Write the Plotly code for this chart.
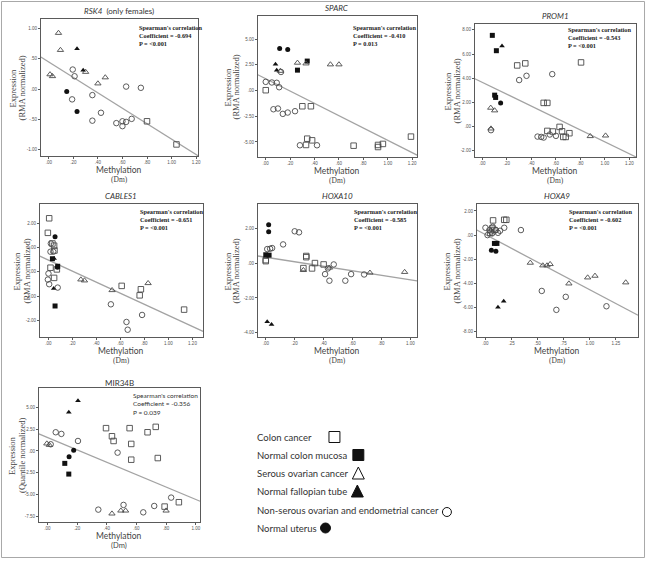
import plotly.graph_objects as go

W, H = 651, 561

# ---------------- data ----------------
# group codes: CC colon cancer, NCM normal colon mucosa, SOC serous ovarian cancer,
# NFT normal fallopian tube, NSC non-serous ovarian/endometrial cancer, NU normal uterus
RSK4_x = [0.079, 0.095, 0.01, 0.03, 0.30, 0.40, 0.46,
          0.23, 0.28,
          0.195, 0.21, 0.19, 0.355, 0.425, 0.355, 0.63, 0.75, 0.55, 0.60, 0.60, 0.63, 0.675,
          0.80, 1.04,
          0.146, 0.23]
RSK4_y = [0.92, 0.64, 0.24, 0.21, 0.28, 0.09, 0.19,
          0.66, 0.31,
          0.32, 0.21, -0.17, -0.10, -0.39, -0.52, 0.04, 0.02, -0.56, -0.53, -0.61, -0.54, -0.49,
          -0.53, -0.91,
          -0.04, -0.37]
RSK4_g = ["SOC"] * 7 + ["NFT"] * 2 + ["NSC"] * 13 + ["CC"] * 2 + ["NU"] * 2
RSK4_fit_x = [-0.065, 1.216]
RSK4_fit_y = [0.526, -1.096]

SPARC_x = [0.114, 0.18,
           0.08, 0.09,
           0.26, 0.34,
           0.26, 0.53, 0.60, 0.12, 0.33,
           0.125, 0.0, 0.05, 0.09, 0.11, 0.063, 0.10, 0.14, 0.18, 0.24, 0.28, 0.42,
           0.0, 0.30, 0.37, 0.33, 0.34, 0.38, 0.72, 0.92, 0.92, 0.96, 1.19]
SPARC_y = [4.09, 3.99,
           2.56, 1.98,
           1.98, 2.86,
           2.69, 2.53, 2.53, 1.90, 2.62,
           1.80, 0.84, 0.78, 0.75, 0.32, -1.82, -1.75, -2.27, -2.14, -2.01, -5.32, -5.32,
           0.03, -1.53, -1.53, -5.29, -4.68, -4.84, -5.36, -5.49, -5.29, -5.19, -4.48]
SPARC_g = ["NU"] * 2 + ["NFT"] * 2 + ["NCM"] * 2 + ["SOC"] * 5 + ["NSC"] * 12 + ["CC"] * 11
SPARC_fit_x = [-0.065, 1.24]
SPARC_fit_y = [1.53, -6.28]

PROM1_x = [0.081, 0.114, 0.10, 0.108,
           0.16,
           0.149,
           0.068, 0.10, 0.07, 0.88, 1.005,
           0.07, 0.30, 0.36, 0.57, 0.45, 0.48, 0.50, 0.55, 0.60,
           0.284, 0.35, 0.805, 0.50, 0.53, 0.63, 0.53, 0.575, 0.65, 0.66, 0.68, 0.71]
PROM1_y = [7.55, 6.28, 2.60, 2.41,
           6.67,
           1.96,
           1.55, 1.33, -0.17, -0.80, -0.75,
           -0.30, 3.85, 4.20, 4.34, -0.83, -0.86, -0.91, -0.66, -0.77,
           5.06, 5.23, 5.31, 1.96, 1.96, -0.03, -0.36, -0.41, -0.39, -0.86, -0.86, -0.55]
PROM1_g = ["NCM"] * 4 + ["NFT"] + ["NU"] + ["SOC"] * 5 + ["NSC"] * 9 + ["CC"] * 12
PROM1_fit_x = [-0.062, 1.254]
PROM1_fit_y = [3.96, -2.52]

CABLES1_x = [0.006, -0.005, 0.033, 0.047, 0.05, 0.017, 0.07, 0.047, 0.61, 0.77, 0.76, 1.13,
             0.02, 0.017, 0.04, 0.0, -0.005, 0.006, 0.077, 0.52, 0.65, 0.66, 0.78,
             0.055, 0.075,
             0.047, 0.044,
             0.033, 0.077, 0.055,
             0.27, 0.30, 0.53, 0.83]
CABLES1_y = [2.21, 1.61, 1.17, 1.08, 0.88, 0.17, 0.10, -0.25, -0.58, -0.72, -0.97, -1.56,
             1.17, 0.83, 0.83, -0.07, -0.32, -0.51, -0.65, -1.34, -2.07, -2.39, -1.78,
             1.45, 0.19,
             0.55, -0.69,
             0.54, 0.23, -1.41,
             -0.32, -0.36, -0.76, -0.47]
CABLES1_g = ["CC"] * 12 + ["NSC"] * 11 + ["NU"] * 2 + ["NFT"] * 2 + ["NCM"] * 3 + ["SOC"] * 4
CABLES1_fit_x = [-0.072, 1.288]
CABLES1_fit_y = [0.65, -2.46]

HOXA10_x = [0.02, 0.02,
            0.01, 0.04,
            0.0, 0.023,
            0.0, 0.0, 0.28, 0.28, 0.26, 0.32, 0.34, 0.40,
            0.01, 0.03, 0.044, 0.12, 0.20, 0.23, 0.41, 0.44, 0.47, 0.55, 0.59, 0.43, 0.68,
            0.26, 0.44, 0.72, 0.96]
HOXA10_y = [2.24, 1.84,
            -3.37, -3.54,
            0.50, 0.48,
            0.19, 0.13, 0.43, 0.36, -0.27, -0.29, 0.02, -0.06,
            0.83, 0.85, 0.89, 1.10, 1.86, 1.80, -0.62, -1.00, -0.06, -1.00, -0.62, -0.29, -0.64,
            -0.39, -0.25, -0.54, -0.50]
HOXA10_g = ["NU"] * 2 + ["NFT"] * 2 + ["NCM"] * 2 + ["CC"] * 8 + ["NSC"] * 13 + ["SOC"] * 4
HOXA10_fit_x = [-0.055, 1.046]
HOXA10_fit_y = [0.43, -1.01]

HOXA9_x = [0.073, 0.18, 0.20, 0.064, 0.085, 0.045,
           0.0, 0.02, 0.038, 0.07, 0.10, 0.12, 0.14, 0.18, 0.34, 0.054, 0.064, 0.54, 0.68, 0.77, 1.16,
           0.086, 0.11,
           0.057, 0.10,
           0.12, 0.175,
           0.43, 0.55, 0.59, 0.62, 0.80, 0.98, 1.05, 1.345]
HOXA9_y = [1.22, 1.27, 1.27, 0.55, 0.42, 0.19,
           0.61, 0.0, 0.42, 0.69, 0.42, 0.19, 0.36, 0.61, 0.42, 0.30, 0.14, -4.63, -6.20, -5.12, -5.90,
           -0.69, -0.69,
           -1.25, -1.33,
           -5.98, -5.48,
           -2.30, -2.52, -2.52, -2.41, -4.02, -3.52, -3.38, -3.93]
HOXA9_g = ["CC"] * 6 + ["NSC"] * 15 + ["NCM"] * 2 + ["NU"] * 2 + ["NFT"] * 2 + ["SOC"] * 8
HOXA9_fit_x = [-0.083, 1.463]
HOXA9_fit_y = [0.42, -6.65]

MIR34B_x = [0.206, 0.144,
            0.117, 0.144,
            0.177, 0.146,
            -0.004, 0.013, 0.435, 0.495, 0.527, 0.80,
            0.022, 0.056, 0.094, 0.206, 0.473, 0.513, 0.343, 0.646, 0.72, 0.834,
            0.395, 0.435, 0.446, 0.554, 0.565, 0.565, 0.675, 0.73, 0.744, 0.79, 0.886]
MIR34B_y = [5.77, 4.46,
            -1.42, -2.65,
            0.08, -0.65,
            0.85, 0.69, -7.19, -6.85, -6.85, -6.85,
            0.77, 2.15, 1.96, 1.15, -0.19, -6.19, -6.73, -7.04, -6.31, -5.35,
            2.62, 1.69, 1.15, 2.62, 0.81, -1.00, 2.15, 2.77, -0.81, -6.38, -5.88]
MIR34B_g = ["NFT"] * 2 + ["NCM"] * 2 + ["NU"] * 2 + ["SOC"] * 6 + ["NSC"] * 10 + ["CC"] * 11
MIR34B_fit_x = [-0.058, 1.029]
MIR34B_fit_y = [1.96, -5.77]

# tick labels
TICKS_X_020 = [0, 0.2, 0.4, 0.6, 0.8, 1.0, 1.2]
TICKS_X_020_TXT = [".00", ".20", ".40", ".60", ".80", "1.00", "1.20"]
TICKS_X_025 = [0, 0.25, 0.5, 0.75, 1.0, 1.25]
TICKS_X_025_TXT = [".00", ".25", ".50", ".75", "1.00", "1.25"]
RSK4_yt = [1.0, 0.5, 0.0, -0.5, -1.0]
RSK4_yt_txt = ["1.00", ".50", ".00", "-.50", "-1.00"]
SPARC_yt = [5.0, 2.5, 0.0, -2.5, -5.0]
SPARC_yt_txt = ["5.00", "2.50", ".00", "-2.50", "-5.00"]
PROM1_yt = [8, 6, 4, 2, 0, -2]
PROM1_yt_txt = ["8.00", "6.00", "4.00", "2.00", ".00", "-2.00"]
CABLES1_yt = [2, 1, 0, -1, -2]
CABLES1_yt_txt = ["2.00", "1.00", ".00", "-1.00", "-2.00"]
HOXA10_yt = [2, 0, -2, -4]
HOXA10_yt_txt = ["2.00", ".00", "-2.00", "-4.00"]
HOXA9_yt = [2, 0, -2, -4, -6, -8]
HOXA9_yt_txt = ["2.00", ".00", "-2.00", "-4.00", "-6.00", "-8.00"]
MIR34B_yt = [5, 2.5, 0, -2.5, -5, -7.5]
MIR34B_yt_txt = ["5.00", "2.50", ".00", "-2.50", "-5.00", "-7.50"]

COEFS = ["-0.694", "-0.410", "-0.543", "-0.651", "-0.585", "-0.602", "-0.356"]
PVALS = ["<0.001", "0.013", "<0.001", "<0.001", "<0.001", "<0.001", "0.039"]

LEGEND_LABELS = ["Colon cancer", "Normal colon mucosa", "Serous ovarian cancer",
                 "Normal fallopian tube", "Non-serous ovarian and endometrial cancer",
                 "Normal uterus"]

# ---------------- styling / layout ----------------
STYLE = {
    "CC": ("square-open", False),
    "NCM": ("square", True),
    "SOC": ("triangle-up-open", False),
    "NFT": ("triangle-up", True),
    "NSC": ("circle-open", False),
    "NU": ("circle", True),
}

panels = [
    dict(title="<i>RSK4</i>  (only females)", x=RSK4_x, y=RSK4_y, g=RSK4_g, fx=RSK4_fit_x, fy=RSK4_fit_y,
         box=(41, 199, 19, 156), xr=(-0.065, 1.216), yr=(-1.10, 1.15), xt=(TICKS_X_020, TICKS_X_020_TXT),
         yt=(RSK4_yt, RSK4_yt_txt), ytitle=("Expression", "(RMA normalized)"), ytx=(13, 22),
         stat=(138, 22), serif=True),
    dict(title="<i>SPARC</i>", x=SPARC_x, y=SPARC_y, g=SPARC_g, fx=SPARC_fit_x, fy=SPARC_fit_y,
         box=(259, 419, 16, 157), xr=(-0.065, 1.24), yr=(-6.46, 7.24), xt=(TICKS_X_020, TICKS_X_020_TXT),
         yt=(SPARC_yt, SPARC_yt_txt), ytitle=("Expression", "(RMA normalized)"), ytx=(230, 238),
         stat=(353, 22), serif=True),
    dict(title="<i>PROM1</i>", x=PROM1_x, y=PROM1_y, g=PROM1_g, fx=PROM1_fit_x, fy=PROM1_fit_y,
         box=(477, 639, 24, 157), xr=(-0.062, 1.254), yr=(-2.52, 8.49), xt=(TICKS_X_020, TICKS_X_020_TXT),
         yt=(PROM1_yt, PROM1_yt_txt), ytitle=("Expression", "(RMA normalized)"), ytx=(450, 459),
         stat=(569, 24), serif=True),
    dict(title="<i>CABLES1</i>", x=CABLES1_x, y=CABLES1_y, g=CABLES1_g, fx=CABLES1_fit_x, fy=CABLES1_fit_y,
         box=(40, 204, 204, 337), xr=(-0.072, 1.288), yr=(-2.69, 2.80), xt=(TICKS_X_020, TICKS_X_020_TXT),
         yt=(CABLES1_yt, CABLES1_yt_txt), ytitle=("Expression", "(RMA normalized)"), ytx=(17, 27),
         stat=(139, 206), serif=True),
    dict(title="<i>HOXA10</i>", x=HOXA10_x, y=HOXA10_y, g=HOXA10_g, fx=HOXA10_fit_x, fy=HOXA10_fit_y,
         box=(259, 419, 204, 337), xr=(-0.055, 1.046), yr=(-4.26, 3.44),
         xt=(TICKS_X_020[:6], TICKS_X_020_TXT[:6]),
         yt=(HOXA10_yt, HOXA10_yt_txt), ytitle=("Expression", "(RMA normalized)"), ytx=(229, 237),
         stat=(354, 206), serif=True),
    dict(title="<i>HOXA9</i>", x=HOXA9_x, y=HOXA9_y, g=HOXA9_g, fx=HOXA9_fit_x, fy=HOXA9_fit_y,
         box=(479, 641, 204, 337), xr=(-0.083, 1.463), yr=(-8.45, 2.58), xt=(TICKS_X_025, TICKS_X_025_TXT),
         yt=(HOXA9_yt, HOXA9_yt_txt), ytitle=("Expression", "(RMA normalized)"), ytx=(449, 459),
         stat=(570, 206), serif=True),
    dict(title="MIR34B", x=MIR34B_x, y=MIR34B_y, g=MIR34B_g, fx=MIR34B_fit_x, fy=MIR34B_fit_y,
         box=(39, 201, 388, 522), xr=(-0.058, 1.029), yr=(-8.15, 7.23),
         xt=(TICKS_X_020[:6], TICKS_X_020_TXT[:6]),
         yt=(MIR34B_yt, MIR34B_yt_txt), ytitle=("Expression", "(Quantile normalized)"), ytx=(12, 22),
         stat=(132, 390), serif=False),
]


def px(x):
    return x / W


def py(y):
    return 1 - y / H


fig = go.Figure()
annotations = []
shapes = []
layout_axes = {}

SANS = "Lato, Open Sans, sans-serif"
SERIF = "Liberation Serif, DejaVu Serif, serif"

for i, p in enumerate(panels):
    n = i + 1
    xa = "x" if n == 1 else f"x{n}"
    ya = "y" if n == 1 else f"y{n}"
    l, r, t, b = p["box"]
    axis_common = dict(showline=True, mirror=True, linecolor="#5a5a5a", linewidth=1,
                       ticks="outside", ticklen=2, tickwidth=0.8, tickcolor="#5a5a5a",
                       tickfont=dict(size=4.5, color="#555", family="Liberation Sans"),
                       showgrid=False, zeroline=False, fixedrange=True)
    layout_axes["xaxis" if n == 1 else f"xaxis{n}"] = dict(
        axis_common, domain=[px(l), px(r)], anchor=ya, range=list(p["xr"]),
        tickmode="array", tickvals=p["xt"][0], ticktext=p["xt"][1])
    layout_axes["yaxis" if n == 1 else f"yaxis{n}"] = dict(
        axis_common, domain=[py(b), py(t)], anchor=xa, range=list(p["yr"]),
        tickmode="array", tickvals=p["yt"][0], ticktext=p["yt"][1])

    # regression line
    fig.add_trace(go.Scatter(x=p["fx"], y=p["fy"], mode="lines", xaxis=xa, yaxis=ya,
                             line=dict(color="#a3a3a3", width=1.3), hoverinfo="skip"))
    # points by group
    for code, (sym, filled) in STYLE.items():
        xs = [xv for xv, gv in zip(p["x"], p["g"]) if gv == code]
        ys = [yv for yv, gv in zip(p["y"], p["g"]) if gv == code]
        if not xs:
            continue
        if filled:
            mk = dict(symbol=sym, size=5, color="#111111", line=dict(width=0))
        else:
            mk = dict(symbol=sym, size=5.5, color="#4a4a4a", line=dict(width=0.9, color="#4a4a4a"))
        fig.add_trace(go.Scatter(x=xs, y=ys, mode="markers", xaxis=xa, yaxis=ya, marker=mk,
                                 cliponaxis=False))

    cx = (l + r) / 2
    # panel title
    annotations.append(dict(x=px(cx), y=py(t - 8 if n != 7 else t - 5), xref="paper", yref="paper",
                            text=p["title"], showarrow=False, xanchor="center", yanchor="middle",
                            font=dict(family=SANS, size=8, color="#333")))
    # stats
    if p["serif"]:
        stat_txt = ("<b>Spearman's correlation</b><br><b>Coefficient = " + COEFS[i] +
                    "</b><br><b>P = " + PVALS[i] + "</b>")
        sfont = dict(family=SERIF, size=6.3, color="#222")
    else:
        stat_txt = ("Spearman's correlation<br>Coefficient = " + COEFS[i] +
                    "<br>P = " + PVALS[i])
        sfont = dict(family=SANS, size=6.5, color="#333")
    annotations.append(dict(x=px(p["stat"][0]), y=py(p["stat"][1]), xref="paper", yref="paper",
                            text=stat_txt, showarrow=False, xanchor="left", yanchor="top",
                            align="left", font=sfont))
    # y titles
    cy = (t + b) / 2
    for txt, xx in zip(p["ytitle"], p["ytx"]):
        annotations.append(dict(x=px(xx), y=py(cy), xref="paper", yref="paper", text=txt,
                                textangle=-90, showarrow=False, xanchor="center", yanchor="middle",
                                font=dict(family=SERIF, size=8.5, color="#444")))
    # x titles
    annotations.append(dict(x=px(cx), y=py(b + 14), xref="paper", yref="paper", text="Methylation",
                            showarrow=False, xanchor="center", yanchor="middle",
                            font=dict(family=SANS, size=8.5, color="#444")))
    annotations.append(dict(x=px(cx), y=py(b + 23.5), xref="paper", yref="paper", text="(Dm)",
                            showarrow=False, xanchor="center", yanchor="middle",
                            font=dict(family=SERIF if p["serif"] else SANS, size=7.5, color="#444")))

# ---------------- custom legend ----------------
LEG_X = 256
LEG_ROWS = [437, 455, 473, 491, 510, 528]
for lab, yy in zip(LEGEND_LABELS, LEG_ROWS):
    annotations.append(dict(x=px(LEG_X), y=py(yy), xref="paper", yref="paper", text=lab,
                            showarrow=False, xanchor="left", yanchor="middle",
                            font=dict(family=SANS, size=9.5, color="#333")))


def rect(cx, cy, s, filled):
    return dict(type="rect", xref="paper", yref="paper", x0=px(cx - s / 2), x1=px(cx + s / 2),
                y0=py(cy + s / 2), y1=py(cy - s / 2),
                line=dict(color="#111", width=1), fillcolor="#111" if filled else "white")


def tri(cx, cy, s, filled):
    path = (f"M {px(cx - s / 2)} {py(cy + s / 2)} L {px(cx + s / 2)} {py(cy + s / 2)} "
            f"L {px(cx)} {py(cy - s / 2)} Z")
    return dict(type="path", xref="paper", yref="paper", path=path,
                line=dict(color="#111", width=1), fillcolor="#111" if filled else "white")


def circ(cx, cy, s, filled):
    return dict(type="circle", xref="paper", yref="paper", x0=px(cx - s / 2), x1=px(cx + s / 2),
                y0=py(cy + s / 2), y1=py(cy - s / 2),
                line=dict(color="#111", width=1), fillcolor="#111" if filled else "white")


shapes += [
    rect(336, LEG_ROWS[0], 11, False),
    rect(360, LEG_ROWS[1], 11, True),
    tri(360, LEG_ROWS[2], 12, False),
    tri(359, LEG_ROWS[3], 12, True),
    circ(449, LEG_ROWS[4] + 2, 9, False),
    circ(327, LEG_ROWS[5], 10, True),
]
# outer frame
shapes.append(dict(type="rect", xref="paper", yref="paper", x0=px(1.5), x1=px(647.5),
                   y0=py(557.5), y1=py(1.5), line=dict(color="#a8a8a8", width=1)))

fig.update_layout(width=W, height=H, margin=dict(l=0, r=0, t=0, b=0),
                  paper_bgcolor="white", plot_bgcolor="white", showlegend=False,
                  annotations=annotations, shapes=shapes, **layout_axes)

fig.write_html("out.html", config={"displayModeBar": False},
               post_script="document.body.style.margin='0px';")
